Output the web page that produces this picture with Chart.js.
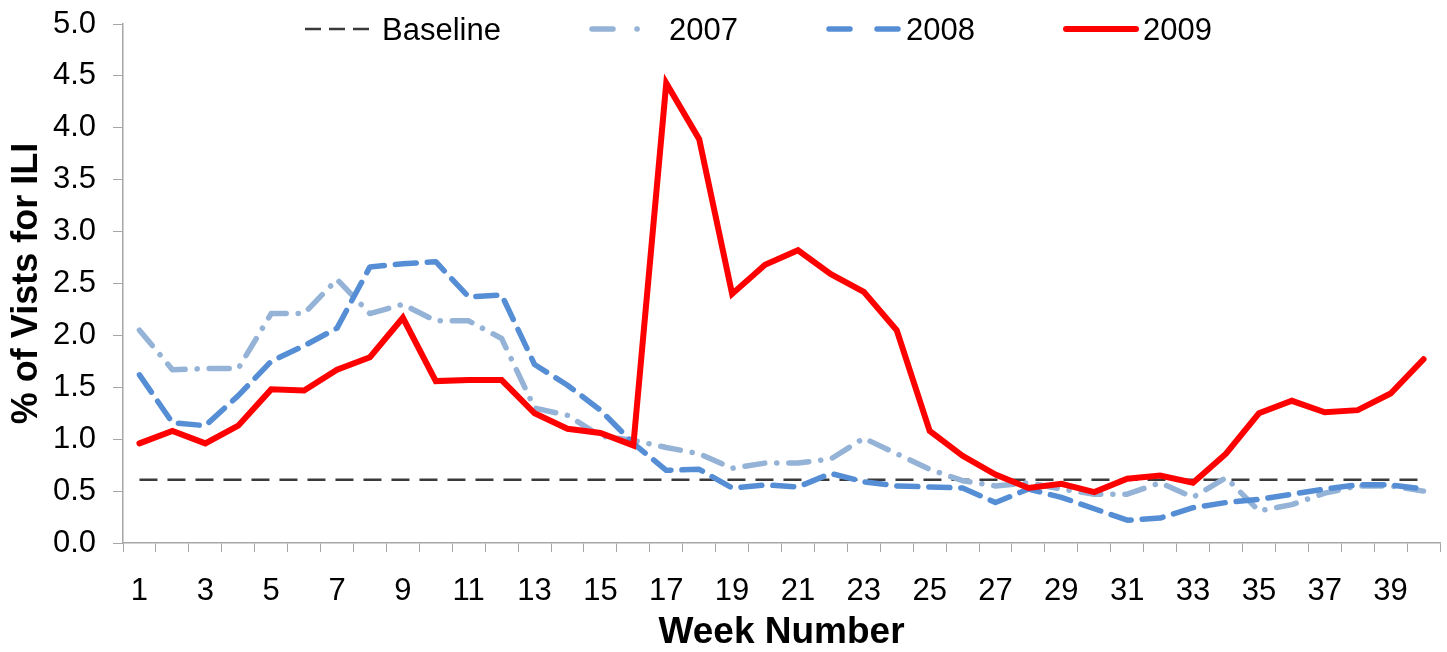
<!DOCTYPE html>
<html>
<head>
<meta charset="utf-8">
<title>% of Visits for ILI by Week</title>
<script src="https://cdn.jsdelivr.net/npm/chart.js@4.4.1/dist/chart.umd.min.js"></script>
<style>
    html, body { margin: 0; padding: 0; background: #fff; }
    #wrap { width: 1447px; height: 652px; position: relative; }
</style>
</head>
<body>
<div id="wrap"><canvas id="iliChart" width="1447" height="652"></canvas></div>
<script>
// Week numbers on the x axis
const weeks = [];
for (let w = 1; w <= 40; w++) weeks.push(String(w));

// Series values
const baseline = [0.61, 0.61, 0.61, 0.61, 0.61, 0.61, 0.61, 0.61, 0.61, 0.61,
                  0.61, 0.61, 0.61, 0.61, 0.61, 0.61, 0.61, 0.61, 0.61, 0.61,
                  0.61, 0.61, 0.61, 0.61, 0.61, 0.61, 0.61, 0.61, 0.61, 0.61,
                  0.61, 0.61, 0.61, 0.61, 0.61, 0.61, 0.61, 0.61, 0.61, 0.61];
const y2007 = [2.05, 1.67, 1.68, 1.68, 2.21, 2.21, 2.54, 2.21, 2.30, 2.14,
               2.14, 1.97, 1.30, 1.23, 1.03, 0.99, 0.92, 0.86, 0.72, 0.77,
               0.77, 0.81, 1.01, 0.86, 0.71, 0.60, 0.55, 0.58, 0.52, 0.47,
               0.47, 0.58, 0.44, 0.63, 0.31, 0.37, 0.48, 0.55, 0.55, 0.50];
const y2008 = [1.62, 1.16, 1.13, 1.42, 1.75, 1.90, 2.07, 2.66, 2.69, 2.71,
               2.37, 2.39, 1.72, 1.52, 1.28, 0.96, 0.70, 0.71, 0.53, 0.56,
               0.54, 0.67, 0.59, 0.55, 0.54, 0.53, 0.39, 0.52, 0.44, 0.33,
               0.22, 0.24, 0.34, 0.39, 0.42, 0.47, 0.52, 0.56, 0.56, 0.52];
const y2009 = [0.96, 1.08, 0.96, 1.13, 1.48, 1.47, 1.67, 1.79, 2.17, 1.56,
               1.57, 1.57, 1.25, 1.10, 1.06, 0.94, 4.43, 3.89, 2.40, 2.68,
               2.82, 2.59, 2.42, 2.05, 1.08, 0.84, 0.66, 0.53, 0.57, 0.49,
               0.62, 0.65, 0.58, 0.86, 1.25, 1.37, 1.26, 1.28, 1.44, 1.77];

const yTicks = ['0.0', '0.5', '1.0', '1.5', '2.0', '2.5', '3.0', '3.5', '4.0', '4.5', '5.0'];

const baseFont = 'Arial, "Liberation Sans", sans-serif';
const axisColor = '#a6a6a6';

// Legend drawn across the top of the plot, like the original
const lineLegend = {
    id: 'lineLegend',
    afterDraw(chart, args, opts) {
        const ctx = chart.ctx;
        ctx.save();
        ctx.font = '31px ' + baseFont;
        ctx.textBaseline = 'middle';
        ctx.fillStyle = '#000';
        chart.data.datasets.forEach((ds, i) => {
            const x = opts.starts[i];
            const y = opts.y;
            ctx.strokeStyle = ds.borderColor;
            ctx.lineWidth = ds.borderWidth;
            ctx.lineCap = ds.borderCapStyle || 'butt';
            ctx.setLineDash(ds.legendDash || ds.borderDash || []);
            ctx.beginPath();
            ctx.moveTo(x, y);
            ctx.lineTo(x + opts.lineLength, y);
            ctx.stroke();
            ctx.setLineDash([]);
            ctx.fillText(ds.label, x + opts.lineLength + opts.gap, y + 2);
        });
        ctx.restore();
    }
};

new Chart(document.getElementById('iliChart'), {
    type: 'line',
    data: {
        labels: weeks,
        datasets: [
            {
                label: 'Baseline',
                data: baseline,
                borderColor: '#3a3a3a',
                borderWidth: 2.5,
                borderDash: [18, 10],
                legendDash: [16, 8],
                pointRadius: 0,
                tension: 0,
                order: 4
            },
            {
                label: '2007',
                data: y2007,
                borderColor: '#95b3d7',
                borderWidth: 5.5,
                borderDash: [20, 12, 0.1, 12],
                legendDash: [21, 24, 0.1, 40],
                borderCapStyle: 'round',
                borderJoinStyle: 'round',
                pointRadius: 0,
                tension: 0,
                order: 3
            },
            {
                label: '2008',
                data: y2008,
                borderColor: '#558ed5',
                borderWidth: 5.5,
                borderDash: [21, 11],
                legendDash: [21, 27],
                borderCapStyle: 'round',
                borderJoinStyle: 'round',
                pointRadius: 0,
                tension: 0,
                order: 2
            },
            {
                label: '2009',
                data: y2009,
                borderColor: '#ff0000',
                borderWidth: 6,
                borderCapStyle: 'round',
                borderJoinStyle: 'miter',
                pointRadius: 0,
                tension: 0,
                order: 1
            }
        ]
    },
    options: {
        responsive: false,
        animation: false,
        devicePixelRatio: 1,
        layout: {
            padding: { top: 24, right: 7, bottom: 0, left: 0 }
        },
        plugins: {
            legend: { display: false },
            tooltip: { enabled: false },
            lineLegend: {
                starts: [305, 592, 829, 1066],
                y: 29,
                lineLength: 70,
                gap: 7
            }
        },
        scales: {
            x: {
                offset: true,
                afterFit: scale => {
                    scale.height = 109;
                    scale.paddingLeft = 0;
                    scale.paddingRight = 0;
                },
                grid: {
                    offset: true,
                    drawOnChartArea: false,
                    drawTicks: true,
                    tickLength: 9,
                    color: axisColor
                },
                border: { color: axisColor, width: 1.5 },
                ticks: {
                    autoSkip: false,
                    maxRotation: 0,
                    padding: 21,
                    color: '#000',
                    font: { family: baseFont, size: 31 },
                    callback: (val, i) => (i % 2 === 0 ? weeks[i] : '')
                },
                title: {
                    display: true,
                    text: 'Week Number',
                    color: '#000',
                    font: { family: baseFont, size: 37, weight: 'bold' },
                    padding: { top: 0, bottom: -3 }
                }
            },
            y: {
                min: 0,
                max: 5,
                afterFit: scale => {
                    scale.width = 123;
                    scale.paddingTop = 0;
                    scale.paddingBottom = 0;
                },
                grid: {
                    drawOnChartArea: false,
                    drawTicks: true,
                    tickLength: 10,
                    color: axisColor
                },
                border: { color: axisColor, width: 1.5 },
                ticks: {
                    stepSize: 0.5,
                    padding: 17,
                    color: '#000',
                    font: { family: baseFont, size: 31 },
                    callback: (val, i) => yTicks[i]
                },
                title: {
                    display: true,
                    text: '% of Vists for ILI',
                    color: '#000',
                    font: { family: baseFont, size: 36, weight: 'bold' },
                    padding: { top: 5, bottom: 0 }
                }
            }
        }
    },
    plugins: [lineLegend]
});
</script>
</body>
</html>
